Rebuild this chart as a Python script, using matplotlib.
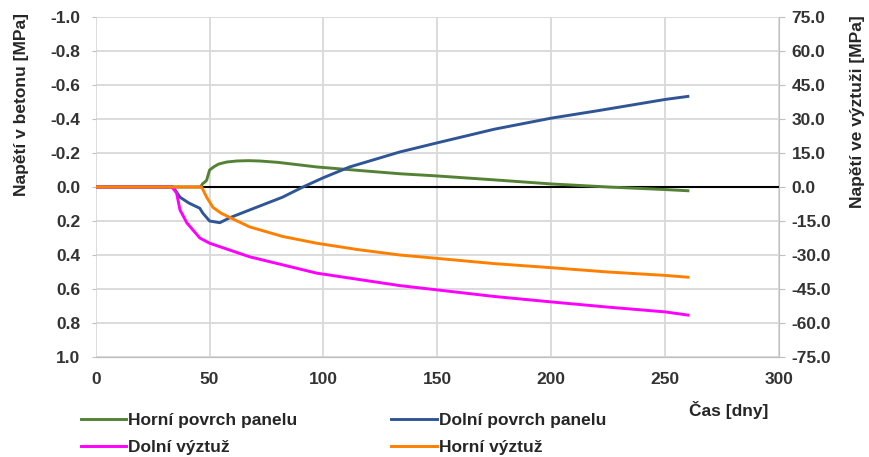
import matplotlib.pyplot as plt

plt.rcParams['font.family'] = ['Liberation Sans', 'DejaVu Sans']
plt.rcParams['font.weight'] = 'bold'

# concrete stresses [MPa] (left axis, inverted)
t_horni_povrch = [0, 46, 47, 48, 48.7, 50, 52, 54, 57.5, 62, 67, 72, 80, 97, 115, 133.5, 150, 175, 200, 225, 250, 260]
s_horni_povrch = [0, 0, -0.02, -0.03, -0.04, -0.10, -0.12, -0.135, -0.147, -0.153, -0.155, -0.153, -0.145, -0.118, -0.098, -0.078, -0.065, -0.042, -0.018, 0.0, 0.015, 0.022]

t_dolni_povrch = [0, 33, 34, 37, 41, 45.7, 47, 50, 54.5, 59, 67.6, 82, 91, 100, 111.5, 133.5, 150, 175, 200, 221, 250, 260]
s_dolni_povrch = [0, 0, 0.0, 0.06, 0.095, 0.125, 0.153, 0.20, 0.21, 0.18, 0.135, 0.06, 0.0, -0.055, -0.118, -0.206, -0.26, -0.34, -0.405, -0.45, -0.515, -0.533]

# reinforcement stresses [MPa] (right axis)
t_dolni_vyztuz = [0, 33.4, 35.5, 37, 40, 45.7, 50, 67.6, 97, 133.5, 150, 175, 200, 225, 250, 260]
s_dolni_vyztuz = [0, 0, -2.6, -10.1, -15.8, -22.5, -24.8, -30.8, -38.0, -43.5, -45.4, -48.3, -50.7, -53.0, -55.1, -56.5]

t_horni_vyztuz = [0, 46.5, 48.7, 51.5, 55, 59, 67.6, 82, 97, 115, 133.5, 150, 175, 200, 225, 250, 260]
s_horni_vyztuz = [0, 0, -4.5, -9.0, -11.5, -13.5, -17.6, -21.8, -24.8, -27.6, -30.0, -31.5, -33.8, -35.6, -37.5, -39.0, -39.8]

green = '#548235'
blue = '#2f5597'
magenta = '#ff00ff'
orange = '#ff8000'
tick_col = '#333333'
text_col = '#262626'
fs = 12.5

fig = plt.figure(figsize=(8.7, 4.57), dpi=100)
ax = fig.add_axes([0.110, 0.2188, 0.7854, 0.744])
ax2 = ax.twinx()

ax.set_xlim(0, 300)
ax.set_ylim(1.0, -1.0)
ax.set_xticks(range(0, 301, 50))
ax.set_yticks([-1.0, -0.8, -0.6, -0.4, -0.2, 0.0, 0.2, 0.4, 0.6, 0.8, 1.0])
ax.set_yticklabels(['%.1f' % v for v in ax.get_yticks()])
ax.grid(True, color='#d9d9d9', linewidth=1.3)
ax.set_axisbelow(True)
ax.axhline(0, color='black', linewidth=1.5, zorder=2)

ax2.set_ylim(-75, 75)
ax2.set_yticks(range(-75, 76, 15))
ax2.set_yticklabels(['%.1f' % v for v in range(-75, 76, 15)])

for a in (ax, ax2):
    for side in ('top', 'left'):
        a.spines[side].set_visible(False)
    a.spines['bottom'].set_color('#bfbfbf')
    a.spines['right'].set_color('#bfbfbf')
ax.spines['right'].set_visible(False)

ax.tick_params(axis='x', length=0, pad=11, labelsize=fs, labelcolor=tick_col)
ax.tick_params(axis='y', length=3, color='#bfbfbf', pad=8, labelsize=fs, labelcolor=tick_col)
ax2.tick_params(axis='y', length=4, color='#bfbfbf', pad=5, labelsize=fs, labelcolor=tick_col)

l1, = ax.plot(t_horni_povrch, s_horni_povrch, color=green, linewidth=2.1, zorder=3)
l2, = ax.plot(t_dolni_povrch, s_dolni_povrch, color=blue, linewidth=2.1, zorder=3)
l3, = ax2.plot(t_dolni_vyztuz, s_dolni_vyztuz, color=magenta, linewidth=2.1, zorder=3)
l4, = ax2.plot(t_horni_vyztuz, s_horni_vyztuz, color=orange, linewidth=2.1, zorder=4)

fig.text(22 / 870, 1 - 105 / 457, 'Napětí v betonu [MPa]', rotation=90,
         ha='center', va='center', fontsize=fs, color=text_col)
fig.text(858 / 870, 1 - 112 / 457, 'Napětí ve výztuži [MPa]', rotation=90,
         ha='center', va='center', fontsize=fs, color=text_col)
fig.text(729 / 870, 1 - 410 / 457, 'Čas [dny]', ha='center', va='center',
         fontsize=fs, color=text_col)

# legend is filled column by column, so order the handles to read row-wise
fig.legend([l1, l3, l2, l4],
           ['Horní povrch panelu', 'Dolní výztuž', 'Dolní povrch panelu', 'Horní výztuž'],
           ncol=2, loc='upper left', bbox_to_anchor=(72 / 870, 1 - 404 / 457),
           frameon=False, borderpad=0, handlelength=2.6, handletextpad=0.15,
           columnspacing=5.4, labelspacing=0.7, fontsize=fs,
           labelcolor=text_col)

fig.savefig('out.png', dpi=100)
